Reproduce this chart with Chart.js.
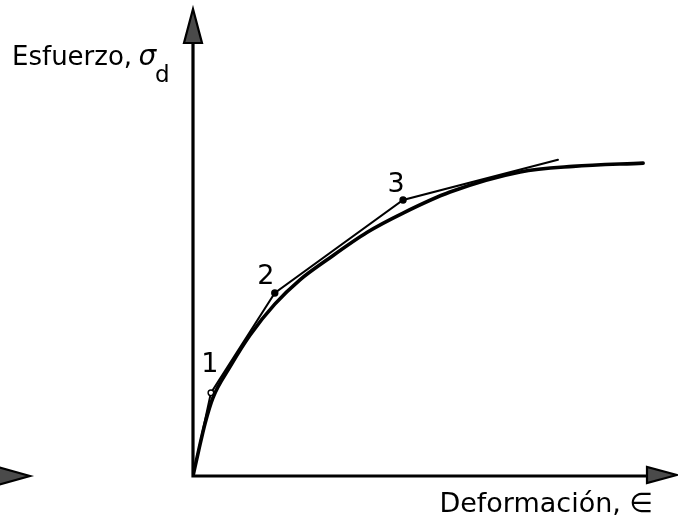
<!DOCTYPE html>
<html>
<head>
<meta charset="utf-8">
<title>Esfuerzo - Deformación</title>
<script src="https://cdn.jsdelivr.net/npm/chart.js@4/dist/chart.umd.min.js"></script>
<style>
    html, body { margin: 0; padding: 0; background: #fff; }
    #wrap { width: 678px; height: 516px; position: relative; }
</style>
</head>
<body>
<div id="wrap"><canvas id="curve-chart"></canvas></div>
<script>
// Stress-strain curve and its piecewise linear approximation
const curveX = [0, 0.12, 0.25, 0.41, 0.76, 1.18, 1.69, 2.21, 2.77, 3.60, 4.34, 5.31, 6.76, 7.85, 9.30];
const curveY = [0, 0.56, 1.13, 1.67, 2.33, 3.02, 3.68, 4.20, 4.63, 5.22, 5.63, 6.08, 6.51, 6.63, 6.70];

// Secant segments; numbered break points
const segX = [0, 0.37, 1.69, 4.34, 7.54];
const segY = [0, 1.78, 3.92, 5.91, 6.77];
const segLabels = ['', '1', '2', '3', ''];

const yTitle = 'Esfuerzo, ';
const ySymbol = 'σ';
const ySub = 'd';
const xTitle = 'Deformación, ∈';

const FONT = '"DejaVu Sans", "Noto Sans", sans-serif';

function toPoints(xs, ys) {
    return xs.map((x, i) => ({ x: x, y: ys[i] }));
}

function arrowHead(ctx, tipX, tipY, dir, len, half) {
    // dir: 'up' or 'right'
    ctx.beginPath();
    if (dir === 'up') {
        ctx.moveTo(tipX, tipY);
        ctx.lineTo(tipX - half, tipY + len);
        ctx.lineTo(tipX + half, tipY + len);
    } else {
        ctx.moveTo(tipX, tipY);
        ctx.lineTo(tipX - len, tipY - half);
        ctx.lineTo(tipX - len, tipY + half);
    }
    ctx.closePath();
    ctx.fillStyle = '#4a4a4a';
    ctx.fill();
    ctx.lineWidth = 2.2;
    ctx.strokeStyle = '#000';
    ctx.stroke();
}

// Axes with arrow heads, drawn under the data
const axesPlugin = {
    id: 'axesArrows',
    beforeDatasetsDraw(chart) {
        const { ctx, chartArea, scales } = chart;
        const x0 = scales.x.getPixelForValue(0);
        const y0 = scales.y.getPixelForValue(0);
        ctx.save();
        ctx.strokeStyle = '#000';
        ctx.lineWidth = 3.2;
        ctx.lineCap = 'square';
        ctx.beginPath();
        ctx.moveTo(x0, y0);
        ctx.lineTo(x0, chartArea.top + 20);
        ctx.moveTo(x0, y0);
        ctx.lineTo(chartArea.right - 20, y0);
        ctx.stroke();
        arrowHead(ctx, x0, chartArea.top, 'up', 34, 9);
        arrowHead(ctx, chartArea.right, y0 - 1, 'right', 30, 8);
        // loose arrow head at far left
        arrowHead(ctx, 30, y0, 'right', 32, 9);
        ctx.restore();
    }
};

// Point numbers and axis titles
const textPlugin = {
    id: 'texts',
    afterDatasetsDraw(chart) {
        const { ctx } = chart;
        const meta = chart.getDatasetMeta(1);
        const offsets = [null, [-1, -28], [-9, -16], [-7, -15], null];
        ctx.save();
        ctx.fillStyle = '#000';
        ctx.font = '27px ' + FONT;
        ctx.textAlign = 'center';
        ctx.textBaseline = 'middle';
        segLabels.forEach((lbl, i) => {
            if (!lbl) return;
            const p = meta.data[i];
            ctx.fillText(lbl, p.x + offsets[i][0], p.y + offsets[i][1]);
        });

        ctx.textAlign = 'left';
        ctx.textBaseline = 'alphabetic';
        ctx.font = '26px ' + FONT;
        let tx = 12;
        ctx.fillText(yTitle, tx, 65);
        tx += ctx.measureText(yTitle).width - 2;
        ctx.font = 'italic 28px ' + FONT;
        ctx.fillText(ySymbol, tx, 65);
        tx += ctx.measureText(ySymbol).width - 1;
        ctx.font = '23px ' + FONT;
        ctx.fillText(ySub, tx, 82);

        ctx.font = '27px ' + FONT;
        ctx.textAlign = 'right';
        ctx.fillText(xTitle, 653, 512);
        ctx.restore();
    }
};

function init() {
    new Chart(document.getElementById('curve-chart'), {
        type: 'line',
        data: {
            datasets: [
                {
                    label: 'curva',
                    data: toPoints(curveX, curveY),
                    borderColor: '#000',
                    borderWidth: 3.6,
                    cubicInterpolationMode: 'monotone',
                    borderCapStyle: 'round',
                    pointRadius: 0,
                    fill: false
                },
                {
                    label: 'secantes',
                    data: toPoints(segX, segY),
                    borderColor: '#000',
                    borderWidth: 2,
                    tension: 0,
                    borderCapStyle: 'round',
                    pointRadius: [0, 2.8, 3, 3, 0],
                    pointBackgroundColor: ['#000', '#fff', '#000', '#000', '#000'],
                    pointBorderColor: '#000',
                    pointBorderWidth: 1.4,
                    fill: false
                }
            ]
        },
        options: {
            responsive: true,
            maintainAspectRatio: false,
            animation: false,
            layout: { padding: { left: 193, right: 1, top: 9, bottom: 40 } },
            plugins: { legend: { display: false }, tooltip: { enabled: false } },
            scales: {
                x: { type: 'linear', min: 0, max: 10, display: false },
                y: { type: 'linear', min: 0, max: 10, display: false }
            }
        },
        plugins: [axesPlugin, textPlugin]
    });
}

window.addEventListener('DOMContentLoaded', init);
</script>
</body>
</html>
